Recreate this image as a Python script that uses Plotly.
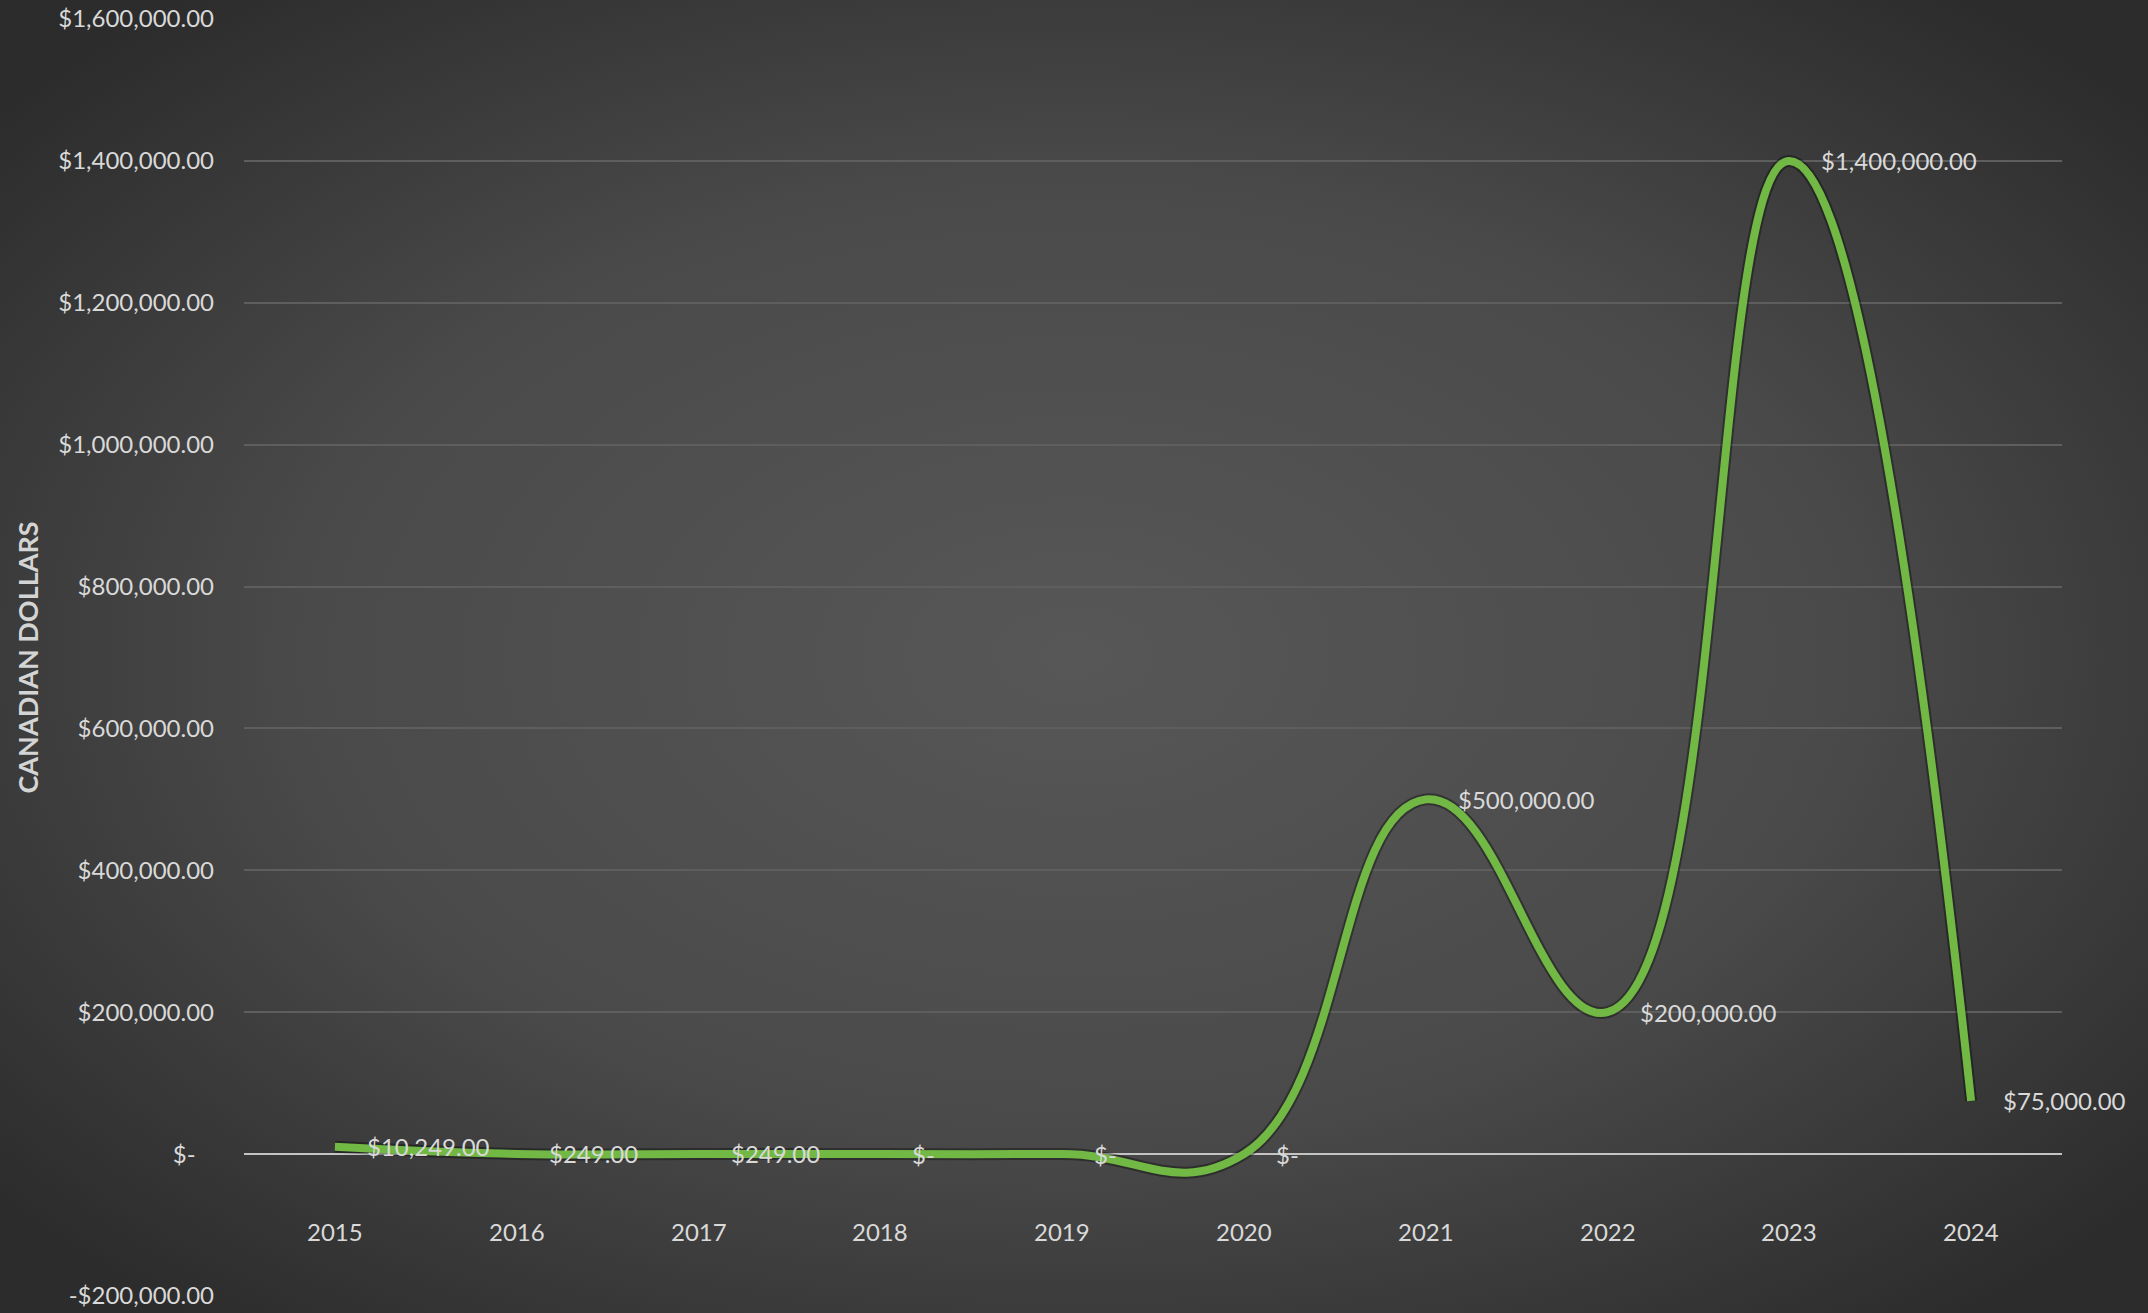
import base64
import plotly.graph_objects as go

# ---- data ----
years = ["2015", "2016", "2017", "2018", "2019", "2020", "2021", "2022", "2023", "2024"]
amounts = [10249, 249, 249, 0, 0, 0, 500000, 200000, 1400000, 75000]
y_ticks = [-200000, 0, 200000, 400000, 600000, 800000, 1000000, 1200000, 1400000, 1600000]
y_title = "CANADIAN DOLLARS"


def money(v):
    if v == 0:
        return "$-\u00a0\u00a0\u00a0"
    s = "${:,.2f}".format(abs(v))
    return "-" + s if v < 0 else s


W, H = 2148, 1313
ML, MR, MT, MB = 244, 86, 19, 17
PW, PH = W - ML - MR, H - MT - MB

FONT = "Lato"
TXT = "#d9d9d9"
FS = 24

# radial gradient background (as svg image)
svg = (
    f'<svg xmlns="http://www.w3.org/2000/svg" width="{W}" height="{H}" viewBox="0 0 {W} {H}" preserveAspectRatio="none">'
    '<defs><radialGradient id="g" cx="50%" cy="50%" r="65%">'
    '<stop offset="0%" stop-color="#575757"/>'
    '<stop offset="55%" stop-color="#4a4a4a"/>'
    '<stop offset="100%" stop-color="#2c2c2c"/>'
    '</radialGradient></defs>'
    f'<rect x="0" y="0" width="{W}" height="{H}" fill="url(#g)"/></svg>'
)
bg_src = "data:image/svg+xml;base64," + base64.b64encode(svg.encode()).decode()

fig = go.Figure()

# soft shadow under the line
fig.add_trace(go.Scatter(
    x=years, y=amounts, mode="lines",
    line=dict(color="rgba(0,0,0,0.35)", width=12, shape="spline", smoothing=1.3),
    hoverinfo="skip", showlegend=False,
))
fig.add_trace(go.Scatter(
    x=years, y=amounts, mode="lines",
    line=dict(color="#71b844", width=8, shape="spline", smoothing=1.3),
    showlegend=False,
))

annotations = []
# data labels
for i, v in enumerate(amounts):
    annotations.append(dict(
        x=i, y=v, xref="x", yref="y", text=money(v), showarrow=False,
        xanchor="left", yanchor="middle", xshift=30,
        font=dict(family=FONT, size=FS, color=TXT),
    ))
# category labels next to the zero axis
for i, yr in enumerate(years):
    annotations.append(dict(
        x=i, y=0, xref="x", yref="y", text=yr, showarrow=False,
        xanchor="center", yanchor="middle", yshift=-77,
        font=dict(family=FONT, size=FS, color=TXT),
    ))
# axis title
annotations.append(dict(
    x=(27 - ML) / PW, y=0.5, xref="paper", yref="paper", text=f"<b>{y_title}</b>",
    showarrow=False, textangle=-90, xanchor="center", yanchor="middle",
    font=dict(family=FONT, size=27, color="#d4d4d4"),
))

fig.update_layout(
    width=W, height=H,
    margin=dict(l=ML, r=MR, t=MT, b=MB, pad=0, autoexpand=False),
    paper_bgcolor="#444444",
    plot_bgcolor="rgba(0,0,0,0)",
    font=dict(family=FONT, size=FS, color=TXT),
    showlegend=False,
    annotations=annotations,
    images=[dict(
        source=bg_src, xref="paper", yref="paper",
        x=-ML / PW, y=1 + MT / PH, sizex=W / PW, sizey=H / PH,
        xanchor="left", yanchor="top", sizing="stretch", layer="below",
    )],
    xaxis=dict(
        type="category", range=[-0.5, len(years) - 0.5],
        showgrid=False, zeroline=False, showline=False, automargin=False,
        showticklabels=False, ticks="", fixedrange=True,
    ),
    yaxis=dict(
        range=[y_ticks[0], y_ticks[-1]], automargin=False,
        tickvals=y_ticks, ticktext=[money(v) for v in y_ticks],
        showgrid=True, gridcolor="#5e5e5e", gridwidth=1.5,
        zeroline=True, zerolinecolor="#c4c4c4", zerolinewidth=2,
        showline=False, ticks="", ticklabelstandoff=29,
        tickfont=dict(family=FONT, size=FS, color=TXT),
    ),
)

fig.write_html(
    "out.html",
    config={"displayModeBar": False},
    post_script=(
        "document.body.style.margin='0';"
        "document.body.style.overflow='hidden';"
        "document.body.style.background='#333';"
    ),
)
